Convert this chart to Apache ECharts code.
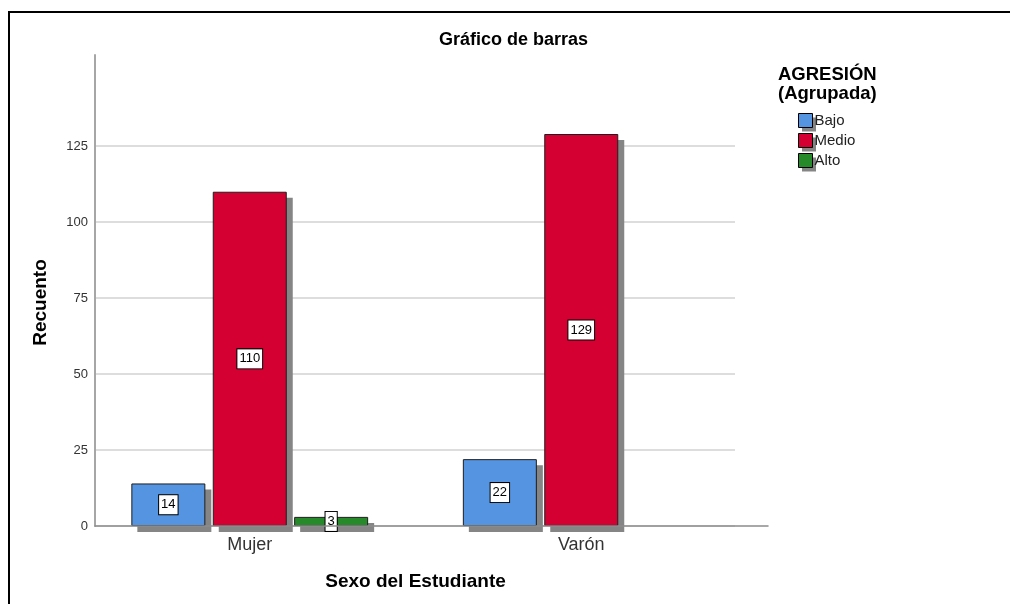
<!DOCTYPE html>
<html>
<head>
<meta charset="utf-8">
<script src="https://cdn.jsdelivr.net/npm/echarts@6/dist/echarts.min.js"></script>
<style>
  html, body { margin: 0; padding: 0; background: #fff; }
  #chart { position: absolute; left: 0; top: 0; width: 1010px; height: 604px; }
  #frame { position: absolute; left: 8px; top: 11px; width: 1010px; height: 600px;
           border-left: 2px solid #000; border-top: 2px solid #000; pointer-events: none; }
</style>
</head>
<body>
<div id="chart"></div>
<div id="frame"></div>
<script type="text/javascript">
// categorias del eje x
var sexo = ['Mujer', 'Varón'];
// recuentos por nivel de agresion
var bajo = [14, 22];
var medio = [110, 129];
var alto = [3, 0];
var niveles = ['Bajo', 'Medio', 'Alto'];
var colores = ['#5594E0', '#D50032', '#268A2B'];
var yTicks = [0, 25, 50, 75, 100, 125];

var font = 'Liberation Sans, Arial, sans-serif';
var gris = '#858585';

/* datos: sin barra ni etiqueta cuando el valor es cero */
function conEtiqueta(arr) {
    return arr.map(function (v) {
        return v > 0 ? { value: v } : { value: v, label: { show: false }, itemStyle: { opacity: 0 } };
    });
}

function serie(nombre, datos, color) {
    return {
        name: nombre,
        type: 'bar',
        xAxisIndex: 1,
        yAxisIndex: 1,
        z: 3,
        barWidth: 74,
        barGap: '10%',
        data: conEtiqueta(datos),
        itemStyle: { color: color, borderColor: '#1e1e1e', borderWidth: 1 },
        label: {
            show: true,
            position: 'inside',
            color: '#000',
            fontSize: 13,
            fontFamily: font,
            backgroundColor: '#fff',
            borderColor: '#000',
            borderWidth: 1,
            padding: [3, 2, 3, 2]
        }
    };
}

/* sombra gris desplazada (grid 3) */
function sombra(nombre, datos) {
    return {
        name: 'sombra ' + nombre,
        type: 'bar',
        xAxisIndex: 3,
        yAxisIndex: 3,
        z: 1,
        silent: true,
        barWidth: 74,
        barGap: '10%',
        data: datos,
        itemStyle: { color: gris }
    };
}

var maxTick = yTicks[yTicks.length - 1];
var gridColors = yTicks.map(function () { return '#d2d2d2'; });
gridColors.push('transparent', 'transparent');

var legendBase = {
    data: niveles,
    orient: 'vertical',
    icon: 'rect',
    itemWidth: 14,
    itemHeight: 14,
    itemGap: 5,
    padding: 0,
    selectedMode: false
};

var chart = echarts.init(document.getElementById('chart'));
var option = {
    animation: false,
    textStyle: { fontFamily: font },
    title: [
        {
            text: 'Gráfico de barras',
            left: 434, top: 26,
            textStyle: { fontSize: 18, fontWeight: 'bold', color: '#000', fontFamily: font }
        },
        {
            text: 'AGRESIÓN\n(Agrupada)',
            left: 773, top: 60,
            textStyle: { fontSize: 18.5, fontWeight: 'bold', color: '#000', lineHeight: 19, fontFamily: font }
        }
    ],
    legend: [
        Object.assign({}, legendBase, {
            left: 802, top: 117, z: 1,
            itemStyle: { color: gris, borderWidth: 0 },
            textStyle: { fontSize: 15, lineHeight: 14, color: 'transparent', fontFamily: font }
        }),
        Object.assign({}, legendBase, {
            left: 798, top: 113, z: 5,
            itemStyle: { borderColor: '#000', borderWidth: 1 },
            textStyle: { fontSize: 15, lineHeight: 14, color: '#222', fontFamily: font, padding: [0, 0, 0, -3] }
        })
    ],
    grid: [
        { left: 95, top: 55, width: 640, height: 471 },
        { left: 84, top: 55, width: 663, height: 471 },
        { left: 95, top: 55, width: 673, height: 471 },
        { left: 90, top: 61, width: 663, height: 471 }
    ],
    xAxis: [
        { type: 'category', gridIndex: 0, data: sexo, show: false },
        {
            type: 'category', gridIndex: 1, data: sexo,
            axisLine: { show: false },
            axisTick: { show: false },
            axisLabel: { fontSize: 18, color: '#333', margin: 10, fontFamily: font },
            name: 'Sexo del Estudiante',
            nameLocation: 'middle',
            nameGap: 46,
            nameTextStyle: { fontSize: 19, fontWeight: 'bold', color: '#000', fontFamily: font }
        },
        {
            type: 'category', gridIndex: 2, data: sexo,
            z: 4,
            axisLine: { show: true, lineStyle: { color: '#8c8c8c', width: 1.5 } },
            axisTick: { show: false },
            axisLabel: { show: false }
        },
        { type: 'category', gridIndex: 3, data: sexo, show: false }
    ],
    yAxis: [
        {
            type: 'value', gridIndex: 0, min: 0, max: 155, interval: 25,
            axisLine: { show: true, lineStyle: { color: '#a6a6a6', width: 2 } },
            axisTick: { show: false },
            axisLabel: {
                fontSize: 13, color: '#333', margin: 7, fontFamily: font,
                formatter: function (v) { return v <= maxTick ? String(v) : ''; }
            },
            splitLine: { show: true, showMaxLine: false, lineStyle: { color: gridColors, width: 1.5 } },
            name: 'Recuento',
            nameLocation: 'middle',
            nameGap: 45,
            nameTextStyle: { fontSize: 19, fontWeight: 'bold', color: '#000', fontFamily: font, padding: [0, 24, 0, 0] }
        },
        { type: 'value', gridIndex: 1, min: 0, max: 155, show: false },
        { type: 'value', gridIndex: 2, min: 0, max: 155, show: false },
        { type: 'value', gridIndex: 3, min: 0, max: 155, show: false }
    ],
    series: [
        sombra(niveles[0], bajo),
        sombra(niveles[1], medio),
        sombra(niveles[2], alto),
        serie(niveles[0], bajo, colores[0]),
        serie(niveles[1], medio, colores[1]),
        serie(niveles[2], alto, colores[2])
    ]
};
chart.setOption(option);
</script>
</body>
</html>
